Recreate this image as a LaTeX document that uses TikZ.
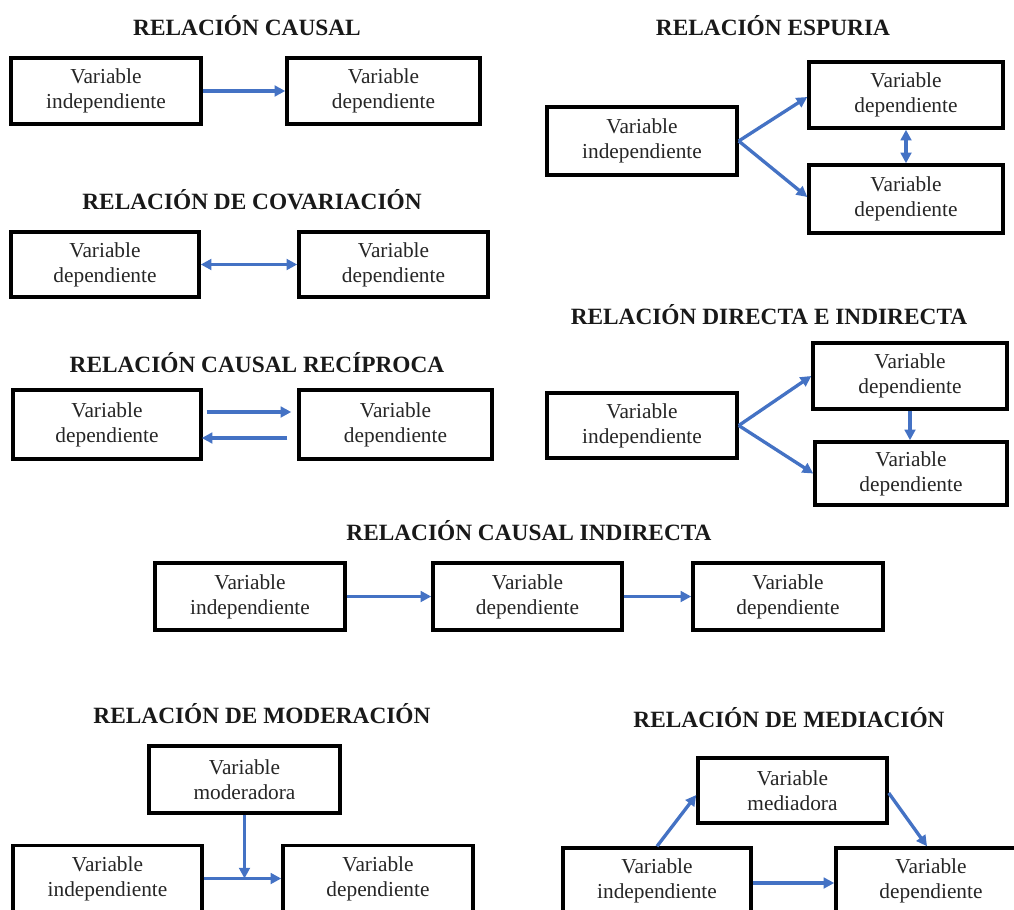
\documentclass[tikz,border=0pt]{standalone}
\usepackage{fontspec}
\setmainfont{Liberation Serif}
\usetikzlibrary{arrows.meta}
\definecolor{arrowblue}{HTML}{4472C4}
\tikzset{
  varbox/.style={draw=black, line width=2.6pt, fill=white, align=center, inner sep=0pt,
    font=\fontsize{16}{18.75}\selectfont, text=black!85},
  title/.style={anchor=base, font=\fontsize{17.5}{20}\selectfont\bfseries, text=black!90},
  arr/.style={draw=arrowblue, line width=2.5pt, -{Triangle[length=8pt,width=8pt]}},
  dbl/.style={draw=arrowblue, line width=2.5pt, {Triangle[length=8pt,width=8pt]}-{Triangle[length=8pt,width=8pt]}},
}
\begin{document}
\begin{tikzpicture}[x=0.75pt, y=-0.75pt]
\useasboundingbox (0,0) rectangle (1014,910);
\clip (0,0) rectangle (1014,910);

% ---- Relación causal
\node[title] (t1) at (247,36) {RELACIÓN CAUSAL};
\node[varbox, minimum width=142.5pt, minimum height=49.5pt] (c1a) at (106,91) {Variable\\independiente};
\node[varbox, minimum width=144.75pt, minimum height=49.5pt] (c1b) at (383.5,91) {Variable\\dependiente};
\draw[arr] (c1a.east) -- (c1b.west);

% ---- Relación espuria
\node[title] (t2) at (773,36) {RELACIÓN ESPURIA};
\node[varbox, minimum width=142.5pt, minimum height=51pt] (ei) at (642,141) {Variable\\independiente};
\node[varbox, minimum width=145.5pt, minimum height=49.5pt] (ed1) at (906,95) {Variable\\dependiente};
\node[varbox, minimum width=145.5pt, minimum height=51pt] (ed2) at (906,199) {Variable\\dependiente};
\draw[arr] (ei.east) -- ([shift={(0,2)}]ed1.west);
\draw[arr] (ei.east) -- ([shift={(0,-2)}]ed2.west);
\draw[dbl] (ed1.south) -- (ed2.north);

% ---- Relación de covariación
\node[title] (t3) at (252,209) {RELACIÓN DE COVARIACIÓN};
\node[varbox, minimum width=141pt, minimum height=48.75pt] (cv1) at (105,264.5) {Variable\\dependiente};
\node[varbox, minimum width=141.75pt, minimum height=48.75pt] (cv2) at (393.5,264.5) {Variable\\dependiente};
\draw[dbl] (cv1.east) -- (cv2.west);

% ---- Relación causal recíproca
\node[title] (t4) at (257,372) {RELACIÓN CAUSAL RECÍPROCA};
\node[varbox, minimum width=141pt, minimum height=51.75pt] (r1) at (107,424.5) {Variable\\dependiente};
\node[varbox, minimum width=144.75pt, minimum height=51.75pt] (r2) at (395.5,424.5) {Variable\\dependiente};
\draw[arr] ([shift={(4,-12.5)}]r1.east) -- ([shift={(-6,-12.5)}]r2.west);
\draw[arr] ([shift={(-10,13.5)}]r2.west) -- ([shift={(-1,13.5)}]r1.east);

% ---- Relación directa e indirecta
\node[title] (t5) at (769,324) {RELACIÓN DIRECTA E INDIRECTA};
\node[varbox, minimum width=142.5pt, minimum height=48.75pt] (di) at (642,425.5) {Variable\\independiente};
\node[varbox, minimum width=145.5pt, minimum height=49.5pt] (dd1) at (910,376) {Variable\\dependiente};
\node[varbox, minimum width=144pt, minimum height=47.25pt] (dd2) at (911,473.5) {Variable\\dependiente};
\draw[arr] (di.east) -- (dd1.west);
\draw[arr] (di.east) -- (dd2.west);
\draw[arr] (dd1.south) -- (dd1.south |- dd2.north);

% ---- Relación causal indirecta
\node[title] (t6) at (529,540) {RELACIÓN CAUSAL INDIRECTA};
\node[varbox, minimum width=142.5pt, minimum height=50.25pt] (ci1) at (250,596.5) {Variable\\independiente};
\node[varbox, minimum width=141.75pt, minimum height=50.25pt] (ci2) at (527.5,596.5) {Variable\\dependiente};
\node[varbox, minimum width=142.5pt, minimum height=50.25pt] (ci3) at (788,596.5) {Variable\\dependiente};
\draw[arr] (ci1.east) -- (ci2.west);
\draw[arr] (ci2.east) -- (ci3.west);

% ---- Relación de moderación
\node[title] (t7) at (262,723) {RELACIÓN DE MODERACIÓN};
\node[varbox, minimum width=143.25pt, minimum height=50.25pt] (mod) at (244.5,779.5) {Variable\\moderadora};
\node[varbox, minimum width=141.75pt, minimum height=49.5pt] (mi) at (107.5,878.5) {Variable\\independiente};
\node[varbox, minimum width=142.5pt, minimum height=49.5pt] (md) at (378,878.5) {Variable\\dependiente};
\coordinate (mj) at (mod.south |- mi.east);
\draw[arr] (mi.east) -- (md.west);
\draw[arr] (mod.south) -- (mj);

% ---- Relación de mediación
\node[title] (t8) at (789,727) {RELACIÓN DE MEDIACIÓN};
\node[varbox, minimum width=141.75pt, minimum height=48.75pt] (me) at (792.5,790.5) {Variable\\mediadora};
\node[varbox, minimum width=141pt, minimum height=49.5pt] (ni) at (657,881) {Variable\\independiente};
\node[varbox, minimum width=142.5pt, minimum height=49.5pt] (nd) at (931,881) {Variable\\dependiente};
\draw[arr] ([shift={(0,2)}]ni.east) -- ([shift={(0,2)}]nd.west);
\draw[arr] (ni.north) -- ([shift={(0,4.5)}]me.west);
\draw[arr] ([shift={(0,2.5)}]me.east) -- ([xshift=-3pt]nd.north);
\end{tikzpicture}
\end{document}
